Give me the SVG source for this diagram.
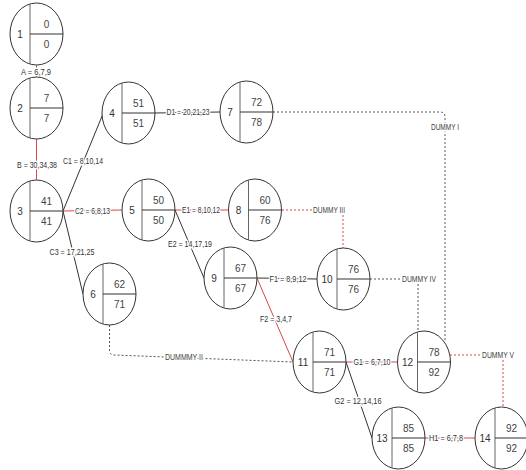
<svg xmlns="http://www.w3.org/2000/svg" xmlns:xlink="http://www.w3.org/1999/xlink" width="526" height="470" viewBox="0 0 526 470">
<style>
.el{fill:#fff;stroke:#333;stroke-width:1}
.vd{stroke:#666;stroke-width:1}
.hd{stroke:#333;stroke-width:1}
.nid{font-family:"Liberation Sans",Arial,sans-serif;font-size:10px;fill:#333;text-anchor:middle}
.val{font-family:"Liberation Sans",Arial,sans-serif;font-size:10px;fill:#444;text-anchor:middle}
.crit{stroke:#d94848;stroke-width:1;fill:none}
.norm{stroke:#333;stroke-width:1;fill:none}
.dotg{stroke:#555;stroke-width:1;stroke-dasharray:2,2;fill:none}
.dotr{stroke:#d94848;stroke-width:1;stroke-dasharray:2,2;fill:none}
.lbl{font-family:"Liberation Sans",Arial,sans-serif;font-size:9px;fill:#333;text-anchor:middle;stroke:#fff;stroke-width:3;paint-order:stroke;stroke-linejoin:round}
.dl{font-family:"Liberation Sans",Arial,sans-serif;font-size:9px;fill:#444;stroke:#fff;stroke-width:3;paint-order:stroke;stroke-linejoin:round}
</style>
<defs>
<g id="nd">
<ellipse class="el" cx="0" cy="0" rx="26.5" ry="31"/>
<line class="vd" x1="-6.5" y1="-30" x2="-6.5" y2="30"/>
<line class="hd" x1="-6.5" y1="0" x2="26.5" y2="0"/>
</g>
</defs>
<rect width="526" height="470" fill="#fff"/>
<g id="connectors">
<line class="crit" x1="36.5" y1="65" x2="36.5" y2="77"/>
<line class="crit" x1="36.5" y1="139" x2="36.5" y2="180"/>
<line class="norm" x1="63" y1="211" x2="102.5" y2="115"/>
<line class="crit" x1="63" y1="211" x2="122" y2="210"/>
<line class="norm" x1="63" y1="211" x2="83" y2="294"/>
<line class="norm" x1="155" y1="113" x2="220" y2="112"/>
<line class="crit" x1="175" y1="210" x2="228.5" y2="210"/>
<line class="norm" x1="175" y1="210" x2="204" y2="278"/>
<line class="norm" x1="257" y1="278" x2="317" y2="279"/>
<line class="crit" x1="257" y1="278" x2="293" y2="362"/>
<line class="crit" x1="346" y1="362" x2="397.5" y2="362"/>
<line class="norm" x1="346" y1="362" x2="372" y2="438"/>
<line class="crit" x1="425" y1="438" x2="475" y2="438"/>
<path class="dotg" d="M273,112 H440 Q445,112 445,117 V342"/>
<path class="dotr" d="M282,210 H313 M343,215 V249"/>
<path class="dotg" d="M370,279 H402 M418,284 V332"/>
<path class="dotr" d="M450,355 H482 M503,360 V407"/>
<path class="dotg" d="M109.5,325 V350 Q109.5,355 114.5,355 L293,362"/>
<text class="lbl" x="36" y="75" textLength="30" lengthAdjust="spacingAndGlyphs">A = 6,7,9</text>
<text class="lbl" x="37" y="168" textLength="40" lengthAdjust="spacingAndGlyphs">B = 30,34,38</text>
<text class="lbl" x="83" y="164" textLength="40" lengthAdjust="spacingAndGlyphs">C1 = 8,10,14</text>
<text class="lbl" x="92.5" y="214" textLength="35" lengthAdjust="spacingAndGlyphs">C2 = 6,8,13</text>
<text class="lbl" x="72" y="255" textLength="45" lengthAdjust="spacingAndGlyphs">C3 = 17,21,25</text>
<text class="lbl" x="188" y="115" textLength="43" lengthAdjust="spacingAndGlyphs">D1 = 20,21,23</text>
<text class="lbl" x="201" y="213" textLength="38" lengthAdjust="spacingAndGlyphs">E1 = 8,10,12</text>
<text class="lbl" x="190" y="247" textLength="44" lengthAdjust="spacingAndGlyphs">E2 = 14,17,19</text>
<text class="lbl" x="288" y="282" textLength="37" lengthAdjust="spacingAndGlyphs">F1 = 8,9,12</text>
<text class="lbl" x="276" y="322" textLength="32" lengthAdjust="spacingAndGlyphs">F2 = 3,4,7</text>
<text class="lbl" x="372" y="365" textLength="37" lengthAdjust="spacingAndGlyphs">G1 = 6,7,10</text>
<text class="lbl" x="358" y="404" textLength="47" lengthAdjust="spacingAndGlyphs">G2 = 12,14,16</text>
<text class="lbl" x="446" y="441" textLength="34" lengthAdjust="spacingAndGlyphs">H1 = 6,7,8</text>
<text class="dl" x="431" y="130" textLength="28" lengthAdjust="spacingAndGlyphs">DUMMY I</text>
<text class="dl" x="313" y="213" textLength="32" lengthAdjust="spacingAndGlyphs">DUMMY III</text>
<text class="dl" x="402" y="282" textLength="34" lengthAdjust="spacingAndGlyphs">DUMMY IV</text>
<text class="dl" x="482" y="358" textLength="32" lengthAdjust="spacingAndGlyphs">DUMMY V</text>
<text class="dl" x="165" y="360" textLength="38" lengthAdjust="spacingAndGlyphs">DUMMMY  II</text>
</g>
<g id="node1" transform="translate(36.5,34)"><use xlink:href="#nd"/><text class="nid" x="-16.5" y="3.5">1</text><text class="val" x="10" y="-6">0</text><text class="val" x="10" y="14">0</text></g>
<g id="node2" transform="translate(36.5,108)"><use xlink:href="#nd"/><text class="nid" x="-16.5" y="3.5">2</text><text class="val" x="10" y="-6">7</text><text class="val" x="10" y="14">7</text></g>
<g id="node3" transform="translate(36.5,211)"><use xlink:href="#nd"/><text class="nid" x="-16.5" y="3.5">3</text><text class="val" x="10" y="-6">41</text><text class="val" x="10" y="14">41</text></g>
<g id="node4" transform="translate(128.5,113)"><use xlink:href="#nd"/><text class="nid" x="-16.5" y="3.5">4</text><text class="val" x="10" y="-6">51</text><text class="val" x="10" y="14">51</text></g>
<g id="node5" transform="translate(148.5,210)"><use xlink:href="#nd"/><text class="nid" x="-16.5" y="3.5">5</text><text class="val" x="10" y="-6">50</text><text class="val" x="10" y="14">50</text></g>
<g id="node6" transform="translate(109.5,294)"><use xlink:href="#nd"/><text class="nid" x="-16.5" y="3.5">6</text><text class="val" x="10" y="-6">62</text><text class="val" x="10" y="14">71</text></g>
<g id="node7" transform="translate(246.5,112)"><use xlink:href="#nd"/><text class="nid" x="-16.5" y="3.5">7</text><text class="val" x="10" y="-6">72</text><text class="val" x="10" y="14">78</text></g>
<g id="node8" transform="translate(255,210)"><use xlink:href="#nd"/><text class="nid" x="-16.5" y="3.5">8</text><text class="val" x="10" y="-6">60</text><text class="val" x="10" y="14">76</text></g>
<g id="node9" transform="translate(230.5,278)"><use xlink:href="#nd"/><text class="nid" x="-16.5" y="3.5">9</text><text class="val" x="10" y="-6">67</text><text class="val" x="10" y="14">67</text></g>
<g id="node10" transform="translate(343.5,279)"><use xlink:href="#nd"/><text class="nid" x="-16.5" y="3.5">10</text><text class="val" x="10" y="-6">76</text><text class="val" x="10" y="14">76</text></g>
<g id="node11" transform="translate(319.5,362)"><use xlink:href="#nd"/><text class="nid" x="-16.5" y="3.5">11</text><text class="val" x="10" y="-6">71</text><text class="val" x="10" y="14">71</text></g>
<g id="node12" transform="translate(424,362)"><use xlink:href="#nd"/><text class="nid" x="-16.5" y="3.5">12</text><text class="val" x="10" y="-6">78</text><text class="val" x="10" y="14">92</text></g>
<g id="node13" transform="translate(398.5,438)"><use xlink:href="#nd"/><text class="nid" x="-16.5" y="3.5">13</text><text class="val" x="10" y="-6">85</text><text class="val" x="10" y="14">85</text></g>
<g id="node14" transform="translate(501.5,438)"><use xlink:href="#nd"/><text class="nid" x="-16.5" y="3.5">14</text><text class="val" x="10" y="-6">92</text><text class="val" x="10" y="14">92</text></g>
</svg>
